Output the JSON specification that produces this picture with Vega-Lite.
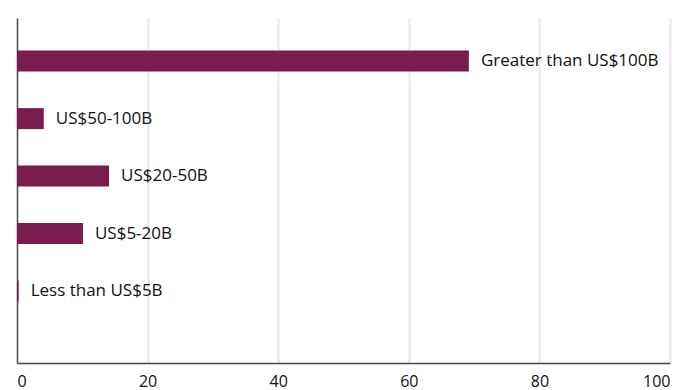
{
  "$schema": "https://vega.github.io/schema/vega-lite/v6.json",
  "width": 653,
  "height": 345,
  "autosize": "none",
  "padding": {"left": 17, "top": 18, "right": 18, "bottom": 27},
  "background": "white",
  "config": {"view": {"stroke": null}, "font": "Open Sans"},
  "data": {"values": [
    {"category": "Greater than US$100B", "value": 69.2},
    {"category": "US$50-100B", "value": 4.1},
    {"category": "US$20-50B", "value": 14.1},
    {"category": "US$5-20B", "value": 10.1},
    {"category": "Less than US$5B", "value": 0.25}
  ]},
  "encoding": {
    "y": {"field": "category", "type": "nominal", "sort": null,
      "scale": {"paddingInner": 0.635, "paddingOuter": 0.8175, "align": 0.347},
      "axis": {"title": null, "labels": false, "ticks": false, "domainColor": "#555555", "domainWidth": 1.5}},
    "x": {"field": "value", "type": "quantitative",
      "scale": {"domain": [0, 100], "nice": false},
      "axis": {"title": null, "values": [0, 20, 40, 60, 80, 100], "ticks": false, "labelPadding": 10,
        "labelFontSize": 16, "labelColor": "#111111", "labelFont": "Open Sans",
        "gridColor": "#e6e6e6", "gridWidth": 2, "domainColor": "#444444", "domainWidth": 1.5}}
  },
  "layer": [
    {"mark": {"type": "bar", "color": "#7b1c4f"}},
    {"mark": {"type": "text", "align": "left", "baseline": "middle", "dx": 12, "fontSize": 17, "fontWeight": 500, "color": "#111111", "font": "Open Sans"},
      "encoding": {"text": {"field": "category"}}}
  ]
}
